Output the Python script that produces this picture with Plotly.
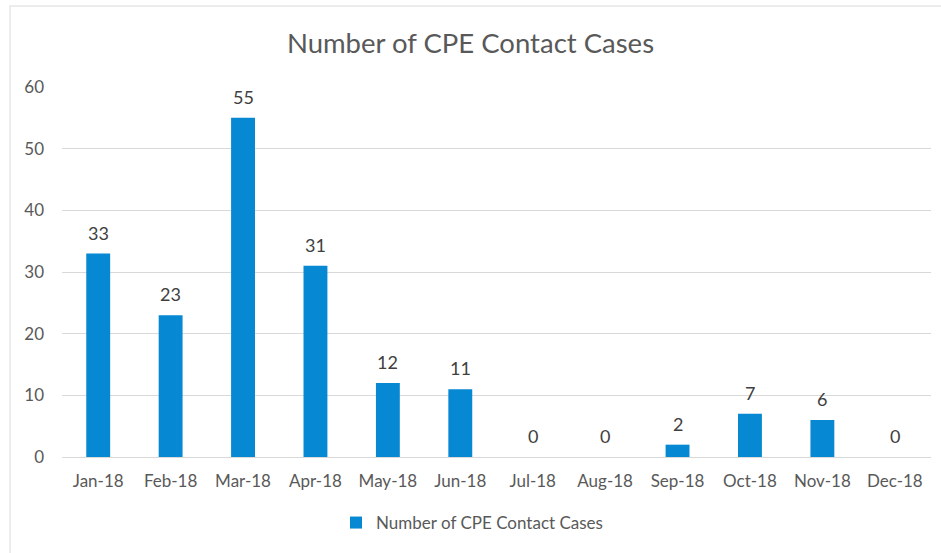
import plotly.graph_objects as go

months = ["Jan-18", "Feb-18", "Mar-18", "Apr-18", "May-18", "Jun-18",
          "Jul-18", "Aug-18", "Sep-18", "Oct-18", "Nov-18", "Dec-18"]
cases = [33, 23, 55, 31, 12, 11, 0, 0, 2, 7, 6, 0]
series_name = "Number of CPE Contact Cases"
y_ticks = [0, 10, 20, 30, 40, 50, 60]

W, H = 941, 553
L, R, T, B = 62, 10, 87, 96
pw, ph = W - L - R, H - T - B

def px_x(X):
    return (X - L) / pw

def px_y(Y):
    return (H - B - Y) / ph

font = "Lato, 'Open Sans', sans-serif"
grey = "#595959"

fig = go.Figure()
fig.add_trace(go.Bar(
    x=months, y=cases, name=series_name,
    marker=dict(color="#0788D2", line=dict(width=0)),
    cliponaxis=False, showlegend=True, hoverinfo="x+y",
))

annotations = [
    dict(x=m, y=v, xref="x", yref="y", text=str(v), showarrow=False,
         yanchor="middle", yshift=21,
         font=dict(size=18, color="#404040", family=font))
    for m, v in zip(months, cases)
]

fig.update_layout(
    width=W, height=H,
    margin=dict(l=L, r=R, t=T, b=B),
    paper_bgcolor="white", plot_bgcolor="white",
    font=dict(family=font, color=grey, size=17),
    title=dict(text="Number of CPE Contact Cases", x=0.5, xanchor="center",
               y=1 - 43 / H, yanchor="middle", xref="container", yref="container",
               font=dict(size=27.5, color=grey, family=font)),
    bargap=0.67,
    showlegend=True,
    legend=dict(orientation="h", x=px_x(472), xanchor="center", y=px_y(523), yanchor="middle",
                font=dict(size=17, color=grey, family=font)),
    xaxis=dict(showgrid=False, showline=True, linecolor="#d9d9d9", linewidth=1,
               tickfont=dict(size=17, color=grey), ticks="", ticklabelstandoff=9),
    yaxis=dict(range=[0, 60], tickvals=y_ticks, showgrid=True, gridcolor="#d9d9d9",
               gridwidth=1, zeroline=False, showline=False, ticks="",
               tickfont=dict(size=17, color=grey), ticklabelstandoff=17),
    annotations=annotations,
    shapes=[dict(type="rect", xref="paper", yref="paper",
                 x0=px_x(10), x1=px_x(960), y0=px_y(580), y1=px_y(6),
                 line=dict(color="#e6e6e6", width=1.5), fillcolor="rgba(0,0,0,0)",
                 layer="below")],
)

fig.write_html("out.html", config={"displayModeBar": False},
               post_script="document.body.style.margin='0px';document.body.style.overflow='hidden';")
